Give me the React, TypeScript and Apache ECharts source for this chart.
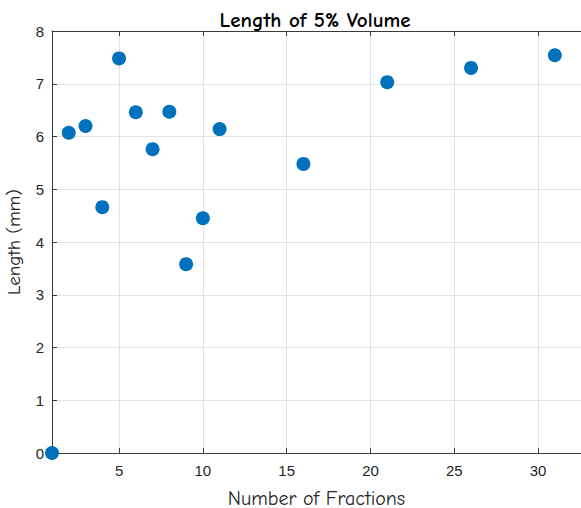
import React, { useEffect, useRef } from "react";
import * as echarts from "echarts";

const fractions = [1, 2, 3, 4, 5, 6, 7, 8, 9, 10, 11, 16, 21, 26, 31, 33];
const lengths = [0, 6.07, 6.2, 4.66, 7.48, 6.46, 5.76, 6.47, 3.58, 4.45, 6.14, 5.48, 7.03, 7.3, 7.54, 6.5];
const xTicks = [5, 10, 15, 20, 25, 30];
const yTicks = [0, 1, 2, 3, 4, 5, 6, 7, 8];

const AXIS = "#3a3a3a";
const GRID = "#e2e2e2";
const LABEL = "#262626";
const COMIC = "'Comic Sans MS', 'Comic Neue', 'DejaVu Sans', sans-serif";
const SANS = "Arial, 'Liberation Sans', Helvetica, sans-serif";

export default function App() {
  const ref = useRef<HTMLDivElement>(null);
  useEffect(() => {
    document.body.style.margin = "0";
    document.body.style.overflow = "hidden";
    const chart = echarts.init(ref.current!, null, { renderer: "svg" });
    const data = fractions.map((x, i) => [x, lengths[i]]);
    chart.setOption({
      animation: false,
      backgroundColor: "#ffffff",
      title: {
        text: "Length of 5% Volume",
        left: 310,
        top: 4,
        textAlign: "center",
        textStyle: { fontFamily: COMIC, fontWeight: "bold", fontSize: 21, color: "#000" },
      },
      grid: { left: 52, right: 0, top: 31, bottom: 55, containLabel: false, outerBoundsMode: "none" },
      xAxis: [
        {
          type: "value",
          min: 1,
          max: 32.56,
          position: "bottom",
          name: "Number of Fractions",
          nameLocation: "middle",
          nameGap: 35,
          nameTextStyle: { fontFamily: COMIC, fontSize: 20, color: LABEL },
          axisLine: { show: true, onZero: false, lineStyle: { color: AXIS, width: 1 } },
          axisTick: { show: true, inside: true, length: 5, customValues: xTicks, lineStyle: { color: AXIS } },
          axisLabel: { customValues: xTicks, fontFamily: SANS, fontSize: 15, color: LABEL, margin: 10 },
          splitLine: { show: true, lineStyle: { color: GRID, width: 1 } },
        },
        {
          type: "value",
          min: 1,
          max: 32.56,
          position: "top",
          axisLine: { show: true, onZero: false, lineStyle: { color: AXIS, width: 1 } },
          axisTick: { show: true, inside: true, length: 5, customValues: xTicks, lineStyle: { color: AXIS } },
          axisLabel: { show: false },
          splitLine: { show: false },
        },
      ],
      yAxis: {
        type: "value",
        min: 0,
        max: 8,
        interval: 1,
        name: "Length (mm)",
        nameLocation: "middle",
        nameGap: 29,
        nameTextStyle: { fontFamily: COMIC, fontSize: 19, color: LABEL },
        axisLine: { show: true, lineStyle: { color: AXIS, width: 1 } },
        axisTick: { show: true, inside: true, length: 5, lineStyle: { color: AXIS } },
        axisLabel: {
          fontFamily: SANS,
          fontSize: 15,
          color: LABEL,
          margin: 8,
          formatter: (v: number) => (yTicks.includes(v) ? String(v) : ""),
        },
        splitLine: { show: true, lineStyle: { color: GRID, width: 1 } },
      },
      series: [
        {
          type: "scatter",
          data,
          symbol: "circle",
          symbolSize: 14,
          clip: false,
          itemStyle: { color: "#0072BD", opacity: 1 },
        },
      ],
    });
    return () => chart.dispose();
  }, []);
  return <div ref={ref} style={{ width: 581, height: 508 }} />;
}
